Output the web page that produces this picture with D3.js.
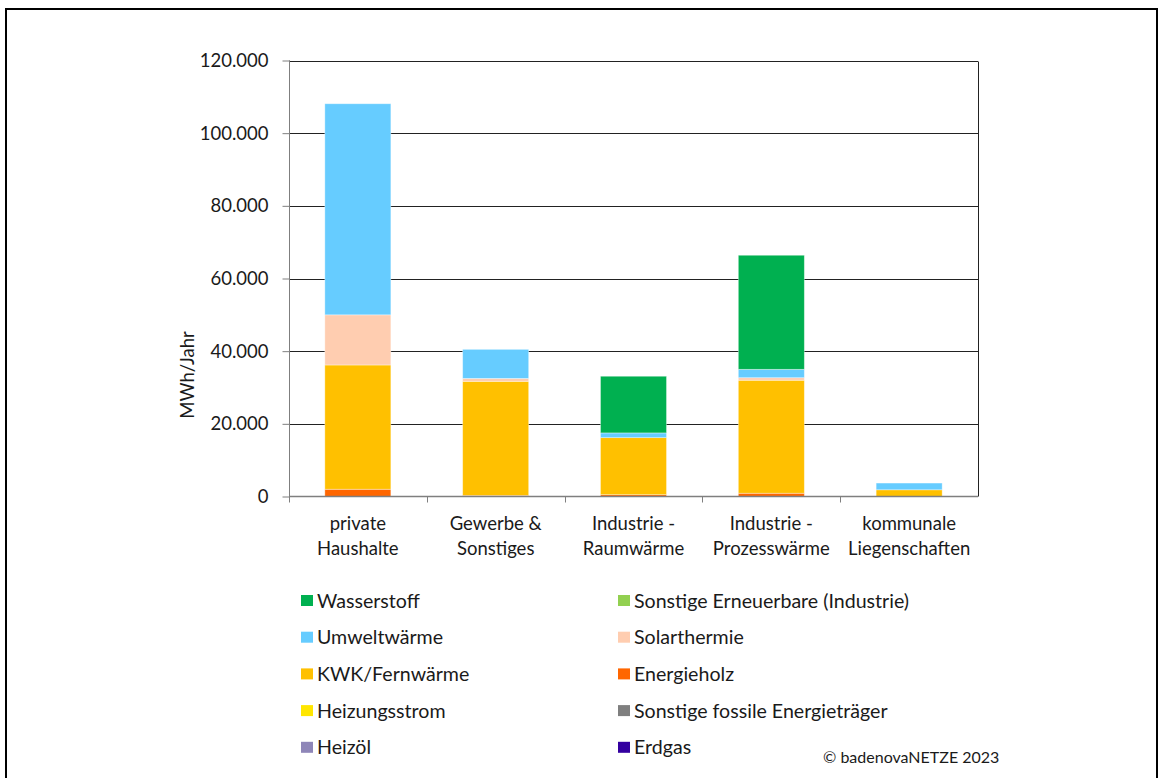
<!DOCTYPE html>
<html>
<head>
<meta charset="utf-8">
<script src="https://cdn.jsdelivr.net/npm/d3@7"></script>
<style>
  html, body { margin: 0; padding: 0; background: #fff; }
  svg { display: block; }
  text { font-family: Lato, "Open Sans", "Noto Sans", sans-serif; fill: #1a1a1a; }
</style>
</head>
<body>
<script>
// Wärmebedarf nach Sektor und Energieträger (MWh/Jahr)
const categories = [
  ["private", "Haushalte"],
  ["Gewerbe &", "Sonstiges"],
  ["Industrie -", "Raumwärme"],
  ["Industrie -", "Prozesswärme"],
  ["kommunale", "Liegenschaften"]
];

// stacking order, bottom to top
const carriers = [
  "Erdgas", "Heizöl", "Sonstige fossile Energieträger", "Heizungsstrom",
  "Energieholz", "KWK/Fernwärme", "Solarthermie", "Umweltwärme",
  "Sonstige Erneuerbare (Industrie)", "Wasserstoff"
];
const colors = [
  "#3300a0", "#8e86b8", "#7f7f7f", "#ffe600",
  "#ff6600", "#ffc000", "#ffcdb0", "#66ccff",
  "#92d050", "#00b050"
];

// values per sector, same order as carriers
const erdgas            = [0, 0, 0, 0, 0];
const heizoel           = [0, 0, 0, 0, 0];
const sonstigeFossile   = [0, 0, 0, 0, 0];
const heizungsstrom     = [0, 0, 0, 0, 0];
const energieholz       = [2000, 300, 500, 900, 0];
const kwkFernwaerme     = [34200, 31400, 15700, 31100, 1850];
const solarthermie      = [13800, 800, 0, 700, 0];
const umweltwaerme      = [58100, 8000, 1300, 2300, 1850];
const sonstigeErneuerb  = [0, 0, 0, 0, 0];
const wasserstoff       = [0, 0, 15600, 31400, 0];
const seriesValues = [erdgas, heizoel, sonstigeFossile, heizungsstrom, energieholz,
  kwkFernwaerme, solarthermie, umweltwaerme, sonstigeErneuerb, wasserstoff];

const yTicks = [0, 20000, 40000, 60000, 80000, 100000, 120000];

// legend: two columns, rows listed top to bottom
const legendRows = [
  ["Wasserstoff", "Sonstige Erneuerbare (Industrie)"],
  ["Umweltwärme", "Solarthermie"],
  ["KWK/Fernwärme", "Energieholz"],
  ["Heizungsstrom", "Sonstige fossile Energieträger"],
  ["Heizöl", "Erdgas"]
];

const W = 1167, H = 778;
const plot = { left: 289, right: 978, top: 60.5, bottom: 496.5 };
const FONT = 18.5;
const LEGEND_FONT = 19.6;

const svg = d3.select("body").append("svg").attr("width", W).attr("height", H);

// outer frame
svg.append("rect").attr("x", 6).attr("y", 9).attr("width", 1151).attr("height", 780)
  .attr("fill", "none").attr("stroke", "#000").attr("stroke-width", 2);

const rows = categories.map((c, i) => {
  const r = { key: i };
  carriers.forEach((k, j) => r[k] = seriesValues[j][i]);
  return r;
});

const x = d3.scaleBand().domain(d3.range(categories.length))
  .range([plot.left, plot.right]).paddingInner(0.521).paddingOuter(0.26);
const y = d3.scaleLinear().domain([0, 120000]).range([plot.bottom, plot.top]);

const fmt = d3.formatLocale({ decimal: ",", thousands: ".", grouping: [3], currency: ["", "€"] }).format(",.0f");

// gridlines
svg.append("g").selectAll("line").data(yTicks.filter(t => t > 0)).join("line")
  .attr("x1", plot.left).attr("x2", plot.right)
  .attr("y1", d => Math.round(y(d)) + 0.5).attr("y2", d => Math.round(y(d)) + 0.5)
  .attr("stroke", "#222").attr("stroke-width", 1);

// right plot border
svg.append("line").attr("x1", plot.right + 0.5).attr("x2", plot.right + 0.5)
  .attr("y1", Math.round(y(120000)) + 0.5).attr("y2", plot.bottom)
  .attr("stroke", "#222");

// stacked bars
const stack = d3.stack().keys(carriers)(rows);
svg.append("g").selectAll("g").data(stack).join("g")
  .attr("fill", (d, i) => colors[i])
  .selectAll("rect").data(d => d.filter(s => s[1] - s[0] > 0)).join("rect")
  .attr("x", d => x(d.data.key))
  .attr("width", x.bandwidth())
  .attr("y", d => y(d[1]))
  .attr("height", d => y(d[0]) - y(d[1]))
  .attr("stroke", "rgba(255,255,255,0.45)").attr("stroke-width", 0.8);

// y axis
const yAxis = svg.append("g").attr("transform", `translate(${plot.left + 0.5},0)`)
  .call(d3.axisLeft(y).tickValues(yTicks).tickFormat(fmt).tickSize(7).tickPadding(14));
yAxis.select(".domain").attr("stroke", "#7f7f7f").attr("d", `M-0.5,${plot.top}H0V${plot.bottom + 5}`);
yAxis.selectAll(".tick line").attr("stroke", "#7f7f7f");
yAxis.selectAll(".tick text").attr("font-size", FONT).attr("fill", "#1a1a1a")
  .attr("font-family", "Lato, 'Open Sans', sans-serif");

// x axis baseline and boundary ticks
const step = x.step();
const bounds = d3.range(categories.length).map(i => x(i) - x.paddingInner() * step / 2);
const xg = svg.append("g");
xg.append("line").attr("x1", plot.left).attr("x2", plot.right)
  .attr("y1", plot.bottom).attr("y2", plot.bottom).attr("stroke", "#7f7f7f").attr("stroke-width", 1.5);
xg.selectAll("line.tk").data(bounds.map((b, i) => i === 0 ? plot.left : b)).join("line")
  .attr("class", "tk")
  .attr("x1", d => Math.round(d) + 0.5).attr("x2", d => Math.round(d) + 0.5)
  .attr("y1", plot.bottom).attr("y2", plot.bottom + 6).attr("stroke", "#7f7f7f");

// category labels
xg.selectAll("text").data(categories).join("text")
  .attr("x", (d, i) => x(i) + x.bandwidth() / 2)
  .attr("y", 530).attr("text-anchor", "middle").attr("font-size", FONT)
  .selectAll("tspan").data(d => d).join("tspan")
  .attr("x", function () { return d3.select(this.parentNode).attr("x"); })
  .attr("dy", (d, i) => i === 0 ? 0 : 25).text(d => d);

// y axis title
svg.append("text").attr("transform", "translate(194,375) rotate(-90)")
  .attr("text-anchor", "middle").attr("font-size", FONT).text("MWh/Jahr");

// legend
const colX = [301, 618];
const legend = svg.append("g");
legendRows.forEach((row, r) => {
  row.forEach((name, c) => {
    const g = legend.append("g").attr("transform", `translate(${colX[c]},${600.5 + r * 36.7})`);
    g.append("rect").attr("x", 0).attr("y", -5.5).attr("width", 12).attr("height", 11)
      .attr("fill", colors[carriers.indexOf(name)]);
    g.append("text").attr("x", 16).attr("y", 7).attr("font-size", LEGEND_FONT).text(name);
  });
});

// copyright
svg.append("text").attr("x", 823).attr("y", 763).attr("font-size", 16).text("© badenovaNETZE 2023");
</script>
</body>
</html>
